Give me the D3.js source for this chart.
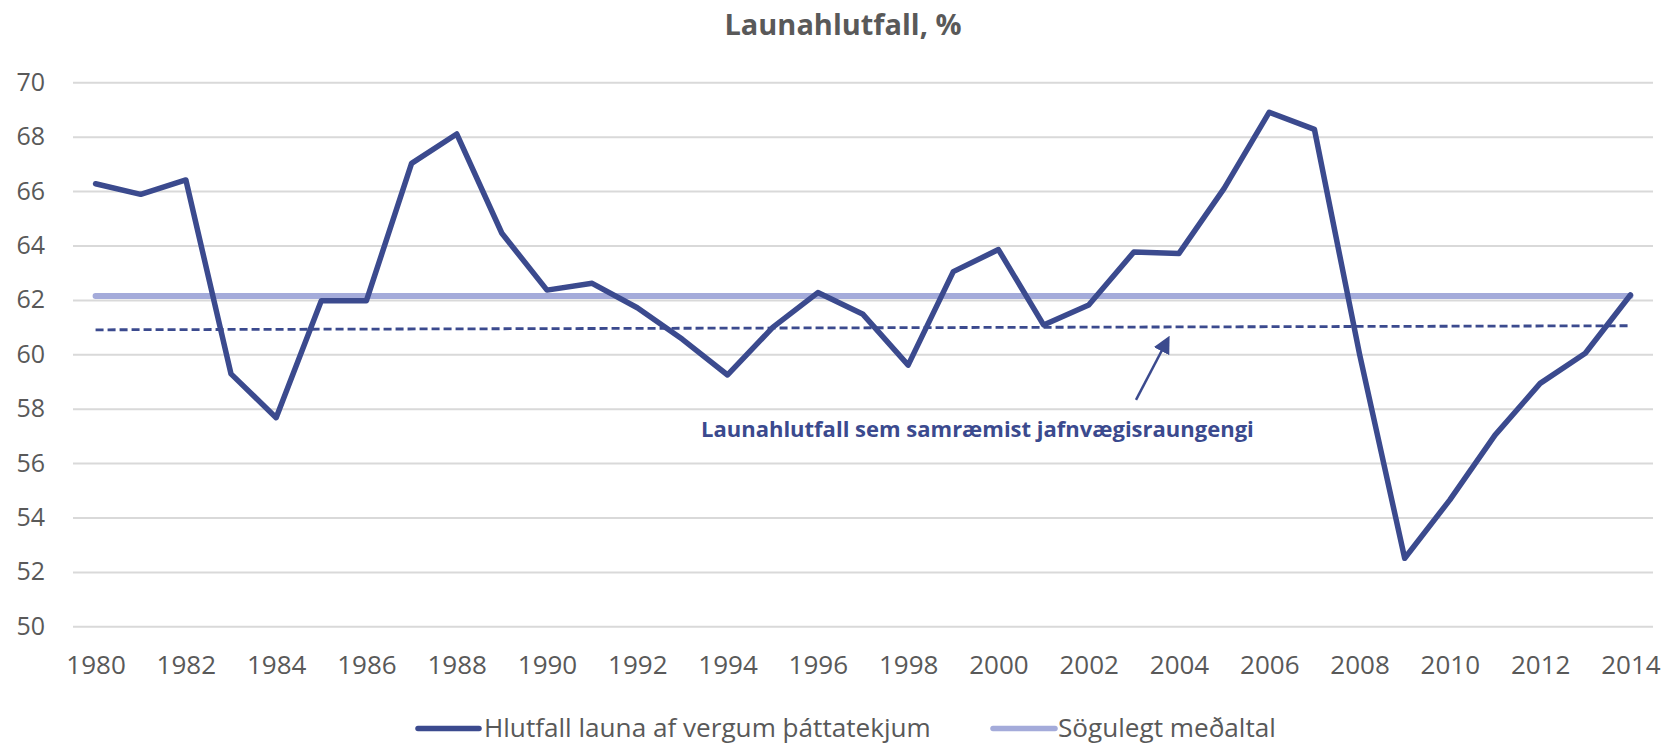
<!DOCTYPE html>
<html>
<head>
<meta charset="utf-8">
<script src="https://cdn.jsdelivr.net/npm/d3@7"></script>
<style>
  body { margin: 0; background: #fff; }
  svg { display: block; font-family: "Open Sans", sans-serif; }
</style>
</head>
<body>
<svg id="chart" width="1671" height="744"></svg>
<script>
"use strict";

// data
var years = d3.range(1980, 2015);
var wageShare = [66.27, 65.88, 66.41, 59.28, 57.67, 61.97, 61.97, 67.02, 68.1, 64.45,
                 62.36, 62.61, 61.71, 60.55, 59.24, 60.99, 62.27, 61.47, 59.6, 63.04,
                 63.85, 61.08, 61.81, 63.76, 63.71, 66.1, 68.9, 68.27, 60.0, 52.5,
                 54.65, 57.03, 58.93, 60.04, 62.18];
var histAvg = 62.14;
var eqYears = [1980, 2014];
var eqValues = [60.9, 61.05];
var yTicks = d3.range(50, 71, 2);
var xTicks = d3.range(1980, 2015, 2);

var titleText = "Launahlutfall, %";
var noteText = "Launahlutfall sem samræmist jafnvægisraungengi";
var seriesNames = ["Hlutfall launa af vergum þáttatekjum", "Sögulegt meðaltal"];

var dark = "#3b4a8e", light = "#a4abda", grey = "#595959";

var svg = d3.select("#chart");

var x = d3.scaleLinear().domain([1979.5, 2014.5]).range([73, 1653]);
var y = d3.scaleLinear().domain([50, 70]).range([626.3, 82.3]);

// shrink or grow a text so it takes the given width
function fit(sel, w){
	var n = sel.node();
	var fs = parseFloat(sel.attr("font-size"));
	sel.attr("font-size", fs * w / n.getComputedTextLength());
}

// gridlines
var grid = svg.append("g")
	.attr("transform", "translate(" + x.range()[0] + ",0)")
	.call(d3.axisRight(y).tickValues(yTicks).tickSize(x.range()[1] - x.range()[0]).tickFormat(""));
grid.select(".domain").remove();
grid.selectAll("line").attr("stroke", "#d9d9d9").attr("stroke-width", 2);

// y labels
var yAxis = svg.append("g")
	.attr("transform", "translate(" + x.range()[0] + ",0)")
	.call(d3.axisLeft(y).tickValues(yTicks).tickSize(0).tickPadding(28));
yAxis.select(".domain").remove();
yAxis.selectAll("text").attr("font-size", 25).attr("fill", grey).attr("font-family", "Open Sans");

// x labels
var xAxis = svg.append("g")
	.attr("transform", "translate(0," + y.range()[0] + ")")
	.call(d3.axisBottom(x).tickValues(xTicks).tickSize(0).tickPadding(29).tickFormat(d3.format("d")));
xAxis.select(".domain").remove();
xAxis.selectAll("text").attr("font-size", 26).attr("fill", grey).attr("font-family", "Open Sans");

// equilibrium line (dashed)
var eqLine = d3.line().x(function(d, i){ return x(eqYears[i]); }).y(function(d){ return y(d); });
svg.append("path")
	.attr("d", eqLine(eqValues))
	.attr("fill", "none")
	.attr("stroke", dark)
	.attr("stroke-width", 2.8)
	.attr("stroke-dasharray", "8,4");

// historical average
svg.append("path")
	.attr("d", d3.line()([[x(years[0]), y(histAvg)], [x(years[years.length - 1]), y(histAvg)]]))
	.attr("stroke", light)
	.attr("stroke-width", 6)
	.attr("stroke-linecap", "round");

// wage share
var line = d3.line().x(function(d, i){ return x(years[i]); }).y(function(d){ return y(d); });
svg.append("path")
	.attr("d", line(wageShare))
	.attr("fill", "none")
	.attr("stroke", dark)
	.attr("stroke-width", 5.5)
	.attr("stroke-linejoin", "round")
	.attr("stroke-linecap", "round");

// title
var title = svg.append("text")
	.attr("x", 843).attr("y", 34.5)
	.attr("text-anchor", "middle")
	.attr("font-size", 26).attr("font-weight", "bold")
	.attr("fill", grey)
	.text(titleText);
fit(title, 237);

// annotation and arrow
var note = svg.append("text")
	.attr("x", 701).attr("y", 437)
	.attr("font-size", 21).attr("font-weight", "bold")
	.attr("fill", dark)
	.text(noteText);
fit(note, 553);

svg.append("defs").append("marker")
	.attr("id", "head")
	.attr("viewBox", "0 0 10 10")
	.attr("refX", 8).attr("refY", 5)
	.attr("markerWidth", 7).attr("markerHeight", 7)
	.attr("markerUnits", "strokeWidth")
	.attr("orient", "auto")
	.append("path")
	.attr("d", "M0,0 L10,5 L0,10 Z")
	.attr("fill", dark);

var arrowY0 = y(eqValues[0]) + 70, arrowY1 = y(eqValues[1]) + 13;
svg.append("line")
	.attr("x1", 1136).attr("y1", arrowY0)
	.attr("x2", 1168).attr("y2", arrowY1)
	.attr("stroke", dark)
	.attr("stroke-width", 2.5)
	.attr("marker-end", "url(#head)");

// legend
var leg = [
	{name: seriesNames[0], color: dark, x0: 418, x1: 479, tx: 484, w: 447},
	{name: seriesNames[1], color: light, x0: 993, x1: 1055, tx: 1058, w: 218}
];
leg.forEach(function(l){
	svg.append("line")
		.attr("x1", l.x0).attr("x2", l.x1)
		.attr("y1", 728.5).attr("y2", 728.5)
		.attr("stroke", l.color).attr("stroke-width", 5.5)
		.attr("stroke-linecap", "round");
	var t = svg.append("text")
		.attr("x", l.tx).attr("y", 737)
		.attr("font-size", 24).attr("fill", grey)
		.text(l.name);
	fit(t, l.w);
});
</script>
</body>
</html>
